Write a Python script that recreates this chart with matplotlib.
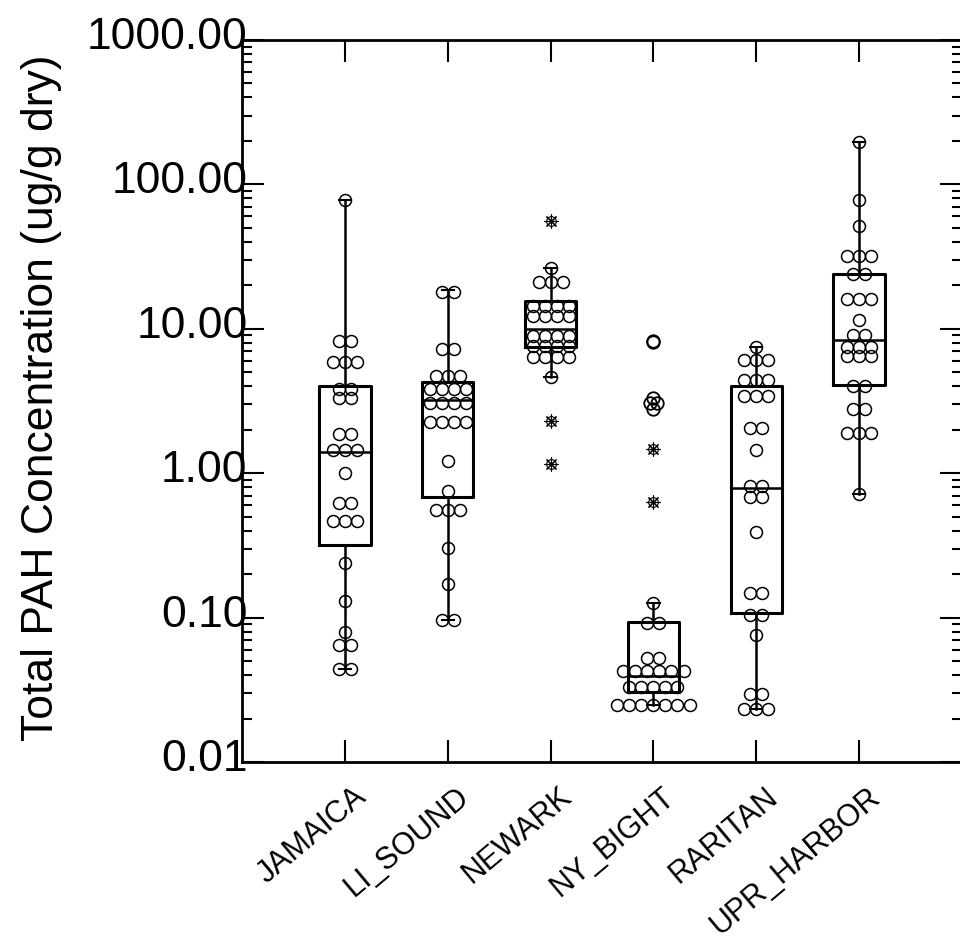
import numpy as np
import matplotlib
matplotlib.use('Agg')
import matplotlib.pyplot as plt
import matplotlib.transforms as mtransforms
from matplotlib.ticker import LogLocator, FormatStrFormatter, NullFormatter

plt.rcParams['font.family'] = ['Liberation Sans', 'DejaVu Sans']

# Sitios de muestreo
sitios = ['JAMAICA', 'LI_SOUND', 'NEWARK', 'NY_BIGHT', 'RARITAN', 'UPR_HARBOR']

# Concentraciones individuales (ug/g seco)
jamaica = [77.8, 8.2, 8.2, 5.9, 5.9, 5.9, 3.83, 3.83, 3.3, 3.3, 1.87, 1.87,
           1.45, 1.45, 1.45, 1.0, 0.62, 0.62, 0.47, 0.47, 0.47, 0.24, 0.13,
           0.08, 0.065, 0.065, 0.044, 0.044]
li_sound = [18.0, 18.0, 7.2, 7.2, 4.7, 4.7, 4.7, 3.83, 3.83, 3.83, 3.83,
            3.05, 3.05, 3.05, 3.05, 2.25, 2.25, 2.25, 2.25, 1.22, 0.75,
            0.56, 0.56, 0.56, 0.305, 0.172, 0.096, 0.096]
newark = [26.5, 21.1, 21.1, 21.1, 14.3, 14.3, 14.3, 14.3, 12.2, 12.2, 12.2,
          12.2, 8.9, 8.9, 8.9, 8.9, 7.65, 7.65, 7.65, 7.65, 6.35, 6.35, 6.35,
          6.35, 4.6]
ny_bight = [0.126, 0.092, 0.092, 0.0525, 0.0525, 0.0428, 0.0428, 0.0428,
            0.0428, 0.0428, 0.0428, 0.0333, 0.0333, 0.0333, 0.0333, 0.0333,
            0.0249, 0.0249, 0.0249, 0.0249, 0.0249, 0.0249, 0.0249]
raritan = [7.46, 6.1, 6.1, 6.1, 4.4, 4.4, 4.4, 3.44, 3.44, 3.44, 2.05, 2.05,
           1.44, 0.816, 0.816, 0.685, 0.685, 0.394, 0.148, 0.148, 0.104,
           0.104, 0.0753, 0.0297, 0.0297, 0.0233, 0.0233, 0.0233]
upr_harbor = [198, 77.8, 51.3, 31.8, 31.8, 31.8, 24.0, 24.0, 16.2, 16.2, 16.2,
              11.5, 9.1, 9.1, 7.46, 7.46, 7.46, 6.46, 6.46, 6.46, 4.0, 4.0,
              2.78, 2.78, 1.9, 1.9, 1.9, 0.72]
puntos = [jamaica, li_sound, newark, ny_bight, raritan, upr_harbor]

# Estadisticos de caja
bigote_inf = [0.044, 0.096, 4.6, 0.0249, 0.0233, 0.72]
cuartil_1 = [0.32, 0.68, 7.5, 0.0305, 0.108, 4.08]
mediana = [1.41, 3.23, 9.9, 0.0396, 0.787, 8.4]
cuartil_3 = [4.0, 4.26, 15.5, 0.093, 4.0, 24.1]
bigote_sup = [77.8, 18.5, 26.5, 0.126, 7.46, 198]

# Valores fuera (asterisco) y muy fuera (circulo)
fuera = [[], [], [56.0, 2.3, 1.15], [1.48, 0.63], [], []]
muy_fuera = [[], [], [], [8.1, 8.25, 2.8, 3.05, 3.05, 3.3], [], []]


def apilar(valores, centro, paso=0.117):
    # valores iguales se colocan lado a lado, centrados
    xs, ys = [], []
    unicos, cuentas = np.unique(valores, return_counts=True)
    for v, n in zip(unicos, cuentas):
        for i in range(n):
            xs.append(centro + (i - (n - 1) / 2) * paso)
            ys.append(v)
    return xs, ys


fig = plt.figure(figsize=(9.6, 9.41), dpi=100)
ax = fig.add_axes([242 / 960, 179 / 941, 720 / 960, 722 / 941])

posiciones = list(range(1, len(sitios) + 1))
stats = []
for i in range(len(sitios)):
    stats.append(dict(whislo=bigote_inf[i], q1=cuartil_1[i], med=mediana[i],
                      q3=cuartil_3[i], whishi=bigote_sup[i], fliers=[]))

ax.bxp(stats, positions=posiciones, widths=0.5, capwidths=0.12,
       showfliers=False,
       boxprops=dict(color='black', linewidth=2.2),
       medianprops=dict(color='black', linewidth=1.8),
       whiskerprops=dict(color='black', linewidth=1.8),
       capprops=dict(color='black', linewidth=1.5))

for pos, valores in zip(posiciones, puntos):
    xs, ys = apilar(valores, pos)
    ax.plot(xs, ys, 'o', mfc='none', mec='black', ms=8.6, mew=1.1,
            linestyle='none')

for pos, valores in zip(posiciones, fuera):
    if valores:
        ax.plot([pos] * len(valores), valores, marker=(8, 2, 0),
                color='black', ms=10, mew=0.8, linestyle='none')
        ax.plot([pos] * len(valores), valores, 'o', mfc='none', mec='black',
                ms=7, mew=0.8, linestyle='none')

for pos, valores in zip(posiciones, muy_fuera):
    if valores:
        xs, ys = apilar(valores, pos, paso=0.06)
        ax.plot(xs, ys, 'o', mfc='none', mec='black', ms=9, mew=1.3,
                linestyle='none')

ax.set_yscale('log')
ax.set_ylim(0.01, 1000)
ax.set_xlim(0, len(sitios) + 1)
ax.yaxis.set_major_locator(LogLocator(base=10, numticks=10))
ax.yaxis.set_minor_locator(LogLocator(base=10, subs=np.arange(2, 10), numticks=10))
ax.yaxis.set_major_formatter(FormatStrFormatter('%.2f'))
ax.yaxis.set_minor_formatter(NullFormatter())

ax.set_xticks(posiciones)
ax.set_xticklabels(sitios, rotation=40, ha='right', va='top',
                   rotation_mode='anchor', fontsize=22)

ax.tick_params(axis='both', which='both', direction='in', top=True,
               right=True, width=1.5, colors='black')
ax.tick_params(axis='y', which='major', length=16, labelsize=32, pad=-4)
ax.tick_params(axis='y', which='minor', length=7)
ax.tick_params(axis='x', which='major', length=16, pad=14)

subir = mtransforms.ScaledTranslation(0, 0.07, fig.dpi_scale_trans)
for etiqueta in ax.get_yticklabels():
    etiqueta.set_transform(etiqueta.get_transform() + subir)
derecha = mtransforms.ScaledTranslation(0.08, 0, fig.dpi_scale_trans)
for etiqueta in ax.get_xticklabels():
    etiqueta.set_transform(etiqueta.get_transform() + derecha)

for spine in ax.spines.values():
    spine.set_linewidth(2)

ax.set_ylabel('Total PAH Concentration (ug/g dry)', fontsize=32, va='center')
ax.yaxis.set_label_coords(-0.278, 0.505)

fig.savefig('out.png', dpi=100)
